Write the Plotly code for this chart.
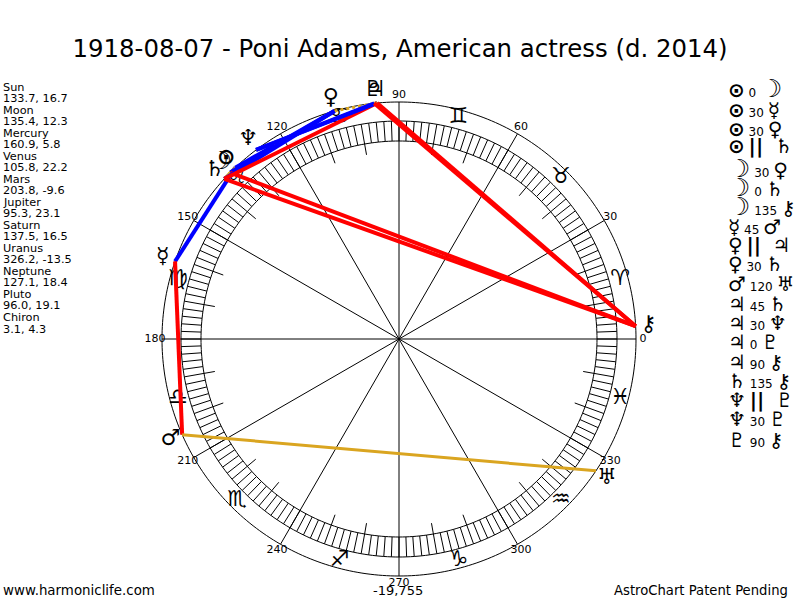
import numpy as np
import plotly.graph_objects as go

# chart text
title = '1918-08-07 - Poni Adams, American actress (d. 2014)'
footer_left = 'www.harmoniclife.com'
footer_mid = '-19,755'
footer_right = 'AstroChart Patent Pending'

# planets: longitude, latitude
planet_names = ['Sun', 'Moon', 'Mercury', 'Venus', 'Mars', 'Jupiter', 'Saturn',
                'Uranus', 'Neptune', 'Pluto', 'Chiron']
planet_lon = [133.7, 135.4, 160.9, 105.8, 203.8, 95.3, 137.5, 326.2, 127.1, 96.0, 3.1]
planet_lat = [16.7, 12.3, 5.8, 22.2, -9.6, 23.1, 16.5, -13.5, 18.4, 19.1, 4.3]
planet_glyphs = ['<b>⊙</b>', '<b><span style="font-size:25px">☽</span></b>', '☿', '♀', '<b>♂</b>',
                 '♃', '♄', '♅', '♆', '♇', '⚷']

# aspects in the order listed on the right
aspect_from = ['Sun', 'Sun', 'Sun', 'Sun', 'Moon', 'Moon', 'Moon', 'Mercury', 'Venus', 'Venus',
               'Mars', 'Jupiter', 'Jupiter', 'Jupiter', 'Jupiter', 'Saturn', 'Neptune', 'Neptune', 'Pluto']
aspect_kind = ['0', '30', '30', '||', '30', '0', '135', '45', '||', '30',
               '120', '45', '30', '0', '90', '135', '||', '30', '90']
aspect_to = ['Moon', 'Mercury', 'Venus', 'Saturn', 'Venus', 'Saturn', 'Chiron', 'Mars', 'Jupiter', 'Saturn',
             'Uranus', 'Saturn', 'Neptune', 'Pluto', 'Chiron', 'Chiron', 'Pluto', 'Pluto', 'Chiron']

sign_glyphs = ['♈', '♉', '♊', '♋', '♌', '♍', '♎', '♏', '♐', '♑', '♒', '♓']
sign_lon = [15, 45, 75, 105, 135, 165, 195, 225, 255, 285, 315, 345]
degree_labels = [0, 30, 60, 90, 120, 150, 180, 210, 240, 270, 300, 330]
tick_lon = [10, 20, 40, 50, 70, 80, 100, 110, 130, 140, 160, 170,
            190, 200, 220, 230, 250, 260, 280, 290, 310, 320, 340, 350]

FONT = 'DejaVu Sans'
R_OUT = 237
R_BAND_OUT = 218
R_BAND_IN = 198
R_TICK = 187
R_MAX = 261
CX, CY = 399, 339

kind_style = {
    '0': dict(color='goldenrod', width=3),
    '30': dict(color='#0000ff', width=4),
    '45': dict(color='#ff0000', width=4),
    '90': dict(color='#ff0000', width=4),
    '135': dict(color='#ff0000', width=4),
    '120': dict(color='goldenrod', width=3),
    '||': dict(color='goldenrod', width=3, dash='dot'),
}

lon = dict(zip(planet_names, planet_lon))
glyph = dict(zip(planet_names, planet_glyphs))

fig = go.Figure()


def segments(angles, r0, r1):
    th, rr = [], []
    for a in angles:
        th += [a, a, None]
        rr += [r0, r1, None]
    return th, rr


def add_lines(th, rr, **line):
    fig.add_trace(go.Scatterpolar(theta=th, r=rr, mode='lines', line=dict(**line), hoverinfo='skip'))


# rings
circle = np.arange(0, 360.5, 1.0)
for radius in [R_OUT, R_BAND_OUT, R_BAND_IN]:
    add_lines(circle, [radius] * len(circle), color='black', width=1)

# band hatching, spokes and the 10 degree ticks
th, rr = segments(np.arange(0, 360, 2), R_BAND_IN, R_BAND_OUT)
add_lines(th, rr, color='black', width=1)
th, rr = segments(degree_labels, 0, R_OUT)
add_lines(th, rr, color='black', width=1)
th, rr = segments(tick_lon, R_TICK, R_BAND_IN)
add_lines(th, rr, color='black', width=1)

fig.add_trace(go.Scatterpolar(theta=degree_labels, r=[244] * 12, mode='text',
                              text=[str(d) for d in degree_labels],
                              textfont=dict(family=FONT, size=11, color='black'), hoverinfo='skip'))
fig.add_trace(go.Scatterpolar(theta=sign_lon, r=[229] * 12, mode='text', text=sign_glyphs,
                              textfont=dict(family=FONT, size=22, color='black'), hoverinfo='skip'))
fig.add_trace(go.Scatterpolar(theta=planet_lon, r=[250] * 11, mode='text', text=planet_glyphs,
                              textfont=dict(family=FONT, size=22, color='black'), hoverinfo='skip'))

# aspect lines
for a, k, b in zip(aspect_from, aspect_kind, aspect_to):
    add_lines([lon[a], lon[b]], [R_OUT, R_OUT], **kind_style[k])


def note(x, y, text, size=11, xanchor='left'):
    fig.add_annotation(x=x / 800, y=1 - y / 600, xref='paper', yref='paper', text=text, showarrow=False,
                       xanchor=xanchor, yanchor='middle', align='left', borderpad=0,
                       font=dict(family=FONT, size=size, color='black'))


# planet positions, left column
row_y = 87
for name, lo, la in zip(planet_names, planet_lon, planet_lat):
    note(2, row_y, name, size=11.3)
    note(2, row_y + 11.5, f'{lo}, {la}', size=11.3)
    row_y += 23.05

# aspect list, right column
aspect_y = [88, 110, 129, 146, 168, 187, 207, 227, 245, 264, 284, 304, 323, 342, 362, 381, 400, 419, 440]
big = '<span style="font-size:20px">%s</span>'
for a, k, b, y in zip(aspect_from, aspect_kind, aspect_to, aspect_y):
    mid = '<b>' + big % '||' + '</b>  ' if k == '||' else k
    note(727, y, big % glyph[a] + ' ' + mid + ' ' + big % glyph[b], size=12)

note(2, 590, footer_left, size=13.4)
note(398, 590, footer_mid, size=13, xanchor='center')
note(789, 590, footer_right, size=13.2, xanchor='right')

fig.update_layout(
    width=800, height=600, margin=dict(l=0, r=0, t=0, b=0),
    paper_bgcolor='white', showlegend=False,
    title=dict(text=title, x=0.5, xanchor='center', y=1 - 48 / 600, yanchor='middle',
               font=dict(family=FONT, size=24.4, color='black')),
    polar=dict(
        domain=dict(x=[(CX - R_MAX) / 800, (CX + R_MAX) / 800],
                    y=[(600 - CY - R_MAX) / 600, (600 - CY + R_MAX) / 600]),
        bgcolor='white',
        radialaxis=dict(visible=False, range=[0, R_MAX]),
        angularaxis=dict(visible=False, rotation=0, direction='counterclockwise'),
    ),
)

# the page's default body margin would push the figure 8px in
fig.write_html("out.html", config={'displayModeBar': False}, post_script="document.body.style.margin='0';")
